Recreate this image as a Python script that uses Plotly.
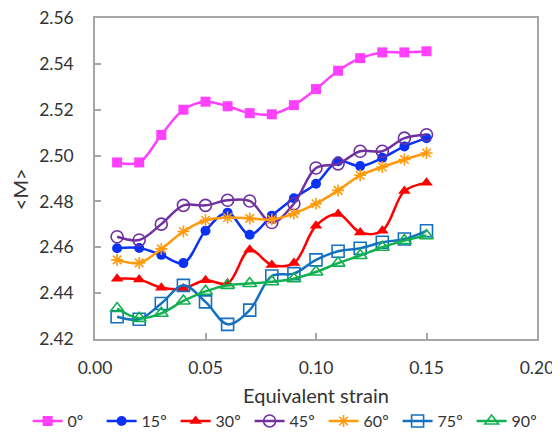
import plotly.graph_objects as go

strain = [0.01, 0.02, 0.03, 0.04, 0.05, 0.06, 0.07, 0.08, 0.09, 0.10, 0.11, 0.12, 0.13, 0.14, 0.15]

m_0 = [2.497, 2.497, 2.509, 2.520, 2.5235, 2.5215, 2.5185, 2.518, 2.522, 2.529, 2.537, 2.5425, 2.545, 2.545, 2.5455]
m_15 = [2.4596, 2.4597, 2.4567, 2.4531, 2.4672, 2.4751, 2.4655, 2.4738, 2.4814, 2.4877, 2.4975, 2.4954, 2.499, 2.504, 2.5076]
m_30 = [2.4463, 2.4459, 2.4424, 2.442, 2.4456, 2.4442, 2.4589, 2.4523, 2.4531, 2.4694, 2.4745, 2.4665, 2.4672, 2.4845, 2.4881]
m_45 = [2.4646, 2.4632, 2.4701, 2.4783, 2.4783, 2.4805, 2.4802, 2.4708, 2.479, 2.4946, 2.4964, 2.5019, 2.5019, 2.5076, 2.5091]
m_60 = [2.4545, 2.4532, 2.4593, 2.4669, 2.4718, 2.473, 2.4726, 2.4721, 2.4747, 2.479, 2.4848, 2.4914, 2.495, 2.4983, 2.5011]
m_75 = [2.4297, 2.4286, 2.4355, 2.4434, 2.4362, 2.4264, 2.4326, 2.4475, 2.4485, 2.4545, 2.4583, 2.4596, 2.4622, 2.4636, 2.4672]
m_90 = [2.4333, 2.429, 2.4312, 2.4366, 2.4408, 2.4434, 2.4442, 2.445, 2.4463, 2.4492, 2.4531, 2.4564, 2.46, 2.4629, 2.4651]

series = [
    ("0º", m_0, "#FF40FF", "square", 10, 0),
    ("15º", m_15, "#0A32F5", "circle", 10, 0),
    ("30º", m_30, "#FF0000", "triangle-up", 11, 0),
    ("45º", m_45, "#7030A0", "circle-open", 12, 1.6),
    ("60º", m_60, "#FF9A0A", "asterisk-open", 10, 1.6),
    ("75º", m_75, "#1470C0", "square-open", 12, 1.6),
    ("90º", m_90, "#10B050", "triangle-up-open", 12, 1.6),
]

fig = go.Figure()
for name, vals, color, sym, size, lw in series:
    marker = dict(symbol=sym, size=size, color=color)
    if lw:
        marker["line"] = dict(color=color, width=lw)
    fig.add_trace(go.Scatter(
        x=strain, y=vals, name=name, mode="lines+markers",
        line=dict(color=color, width=2.5, shape="spline", smoothing=1),
        marker=marker,
    ))

axis_common = dict(
    showline=True, linecolor="#A6A6A6", linewidth=1.5, mirror=True,
    showgrid=False, zeroline=False, automargin=False,
    ticks="inside", ticklen=6, tickcolor="#A6A6A6", tickwidth=1.5,
    ticklabeloverflow="allow",
    tickfont=dict(family="Lato", size=17.5, color="#333333"),
)

# the page body has an 8px default margin; the figure starts at (8, 8) in the window
fig.update_layout(
    width=552, height=448, autosize=False,
    margin=dict(l=87, r=23, t=10, b=117),
    paper_bgcolor="white", plot_bgcolor="white",
    font=dict(family="Lato", color="#333333"),
    xaxis=dict(range=[0, 0.2], dtick=0.05, tickformat=".2f", ticklabelstandoff=12,
               title=dict(text="Equivalent strain", font=dict(size=20), standoff=12),
               **axis_common),
    yaxis=dict(range=[2.42, 2.56], dtick=0.02, tickformat=".2f", ticklabelstandoff=16,
               **axis_common),
    annotations=[dict(text="&lt;M&gt;", xref="paper", yref="paper", x=-0.169, y=0.4676,
                      xanchor="center", yanchor="middle", textangle=-90, showarrow=False,
                      font=dict(size=20, family="Lato", color="#333333"))],
    legend=dict(orientation="h", x=-0.1525, xanchor="left", y=-0.2556, yanchor="middle",
                font=dict(size=16), itemwidth=30, entrywidth=29, entrywidthmode="pixels",
                tracegroupgap=0),
)

fig.write_html("out.html")
